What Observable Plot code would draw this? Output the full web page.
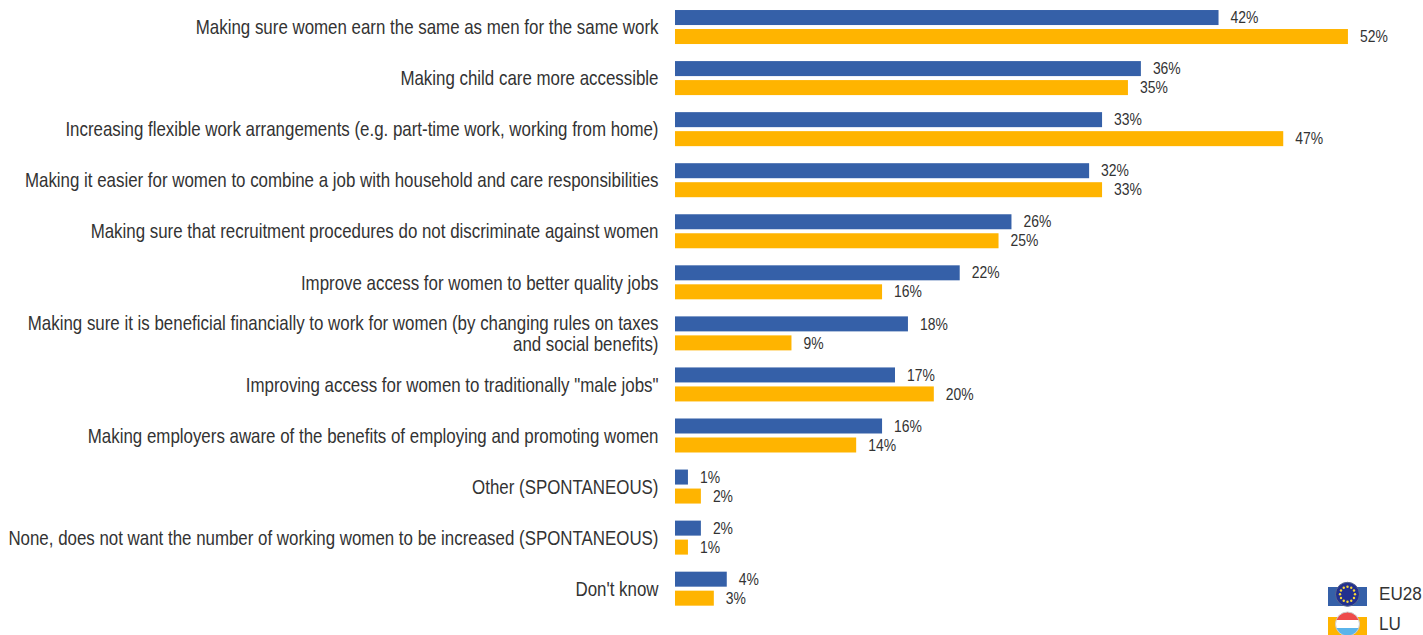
<!DOCTYPE html>
<html>
<head>
<meta charset="utf-8">
<script src="https://cdn.jsdelivr.net/npm/d3@7"></script>
<script src="https://cdn.jsdelivr.net/npm/@observablehq/plot@0.6"></script>
<style>
html,body{margin:0;padding:0;background:#fff;overflow:hidden;}
#wrap{position:relative;width:1423px;height:635px;overflow:hidden;}
.lg{position:absolute;left:1328px;font:18px "Liberation Sans",sans-serif;color:#333;}
.lg svg{position:absolute;left:0;top:0;overflow:visible;}
.lg span{position:absolute;left:51px;top:-3px;transform:scaleX(.95);transform-origin:left center;}
</style>
</head>
<body>
<div id="wrap"></div>
<script>
const categories = [
  "Making sure women earn the same as men for the same work",
  "Making child care more accessible",
  "Increasing flexible work arrangements (e.g. part-time work, working from home)",
  "Making it easier for women to combine a job with household and care responsibilities",
  "Making sure that recruitment procedures do not discriminate against women",
  "Improve access for women to better quality jobs",
  "Making sure it is beneficial financially to work for women (by changing rules on taxes\nand social benefits)",
  "Improving access for women to traditionally \"male jobs\"",
  "Making employers aware of the benefits of employing and promoting women",
  "Other (SPONTANEOUS)",
  "None, does not want the number of working women to be increased (SPONTANEOUS)",
  "Don't know"
];
const eu28 = [42,36,33,32,26,22,18,17,16,1,2,4];
const lu   = [52,35,47,33,25,16,9,20,14,2,1,3];
const seriesNames = ["EU28","LU"];
const seriesColors = ["#3560a8","#ffb400"];

const rows = categories.flatMap((c,i)=>[
  {category:c, series:"EU28", value:eu28[i]},
  {category:c, series:"LU", value:lu[i]}
]);
const font = '"Liberation Sans",sans-serif';
const chart = Plot.plot({
  width:1423, height:635,
  marginLeft:675, marginRight:0, marginTop:1.5, marginBottom:20.8,
  style:{background:"#fff", fontFamily:font},
  x:{domain:[0,57.8], axis:null},
  fy:{domain:categories, axis:null, padding:0, round:false},
  y:{domain:seriesNames, axis:null, paddingInner:0.21, paddingOuter:0.449, round:false},
  color:{domain:seriesNames, range:seriesColors},
  marks:[
    Plot.barX(rows,{fy:"category", y:"series", x:"value", fill:"series"}),
    Plot.text(rows,{fy:"category", y:"series", x:"value", text:d=>d.value+"%", dx:11.5, textAnchor:"start", fontSize:16, fill:"#333", className:"vals"}),
    Plot.text(categories,{fy:d=>d, frameAnchor:"left", text:d=>d, textAnchor:"end", dx:-17, fontSize:20, lineHeight:1.05, fill:"#333", className:"cats"})
  ]
});
document.getElementById("wrap").appendChild(chart);

// The reference uses a condensed face: squeeze the text horizontally about its own anchor.
function squeeze(cls,k){
  d3.select(chart).selectAll(`.${cls} text`).each(function(){
    const t=this.getAttribute("transform")||"";
    this.setAttribute("transform",`${t} scale(${k},1)`);
  });
}
squeeze("cats",0.845);
squeeze("vals",0.87);

function legend(top,name,color,flag){
  const el=document.createElement("div");
  el.className="lg"; el.style.top=top+"px";
  el.innerHTML=`<svg width="40" height="20"><rect width="39" height="19" fill="${color}"/>${flag}</svg><span>${name}</span>`;
  document.getElementById("wrap").appendChild(el);
}
const stars=d3.range(12).map(i=>{const a=i*Math.PI/6;return `<circle cx="${19.5+7.5*Math.cos(a)}" cy="${7.3+7.5*Math.sin(a)}" r="1.2" fill="#f6d53a"/>`}).join("");
legend(587,"EU28","#3560a8",`<circle cx="19.5" cy="7.3" r="12" fill="#22308f" stroke="#5a6a90"/>${stars}`);
legend(617,"LU","#ffb400",`<defs><clipPath id="c"><circle cx="19.5" cy="7" r="12"/></clipPath></defs><g clip-path="url(#c)"><rect x="7" y="-5" width="25" height="8" fill="#ee4b4b"/><rect x="7" y="3" width="25" height="8" fill="#fff"/><rect x="7" y="11" width="25" height="9" fill="#5ab4ea"/></g><circle cx="19.5" cy="7" r="12" fill="none" stroke="#ccc"/>`);
</script>
</body>
</html>
